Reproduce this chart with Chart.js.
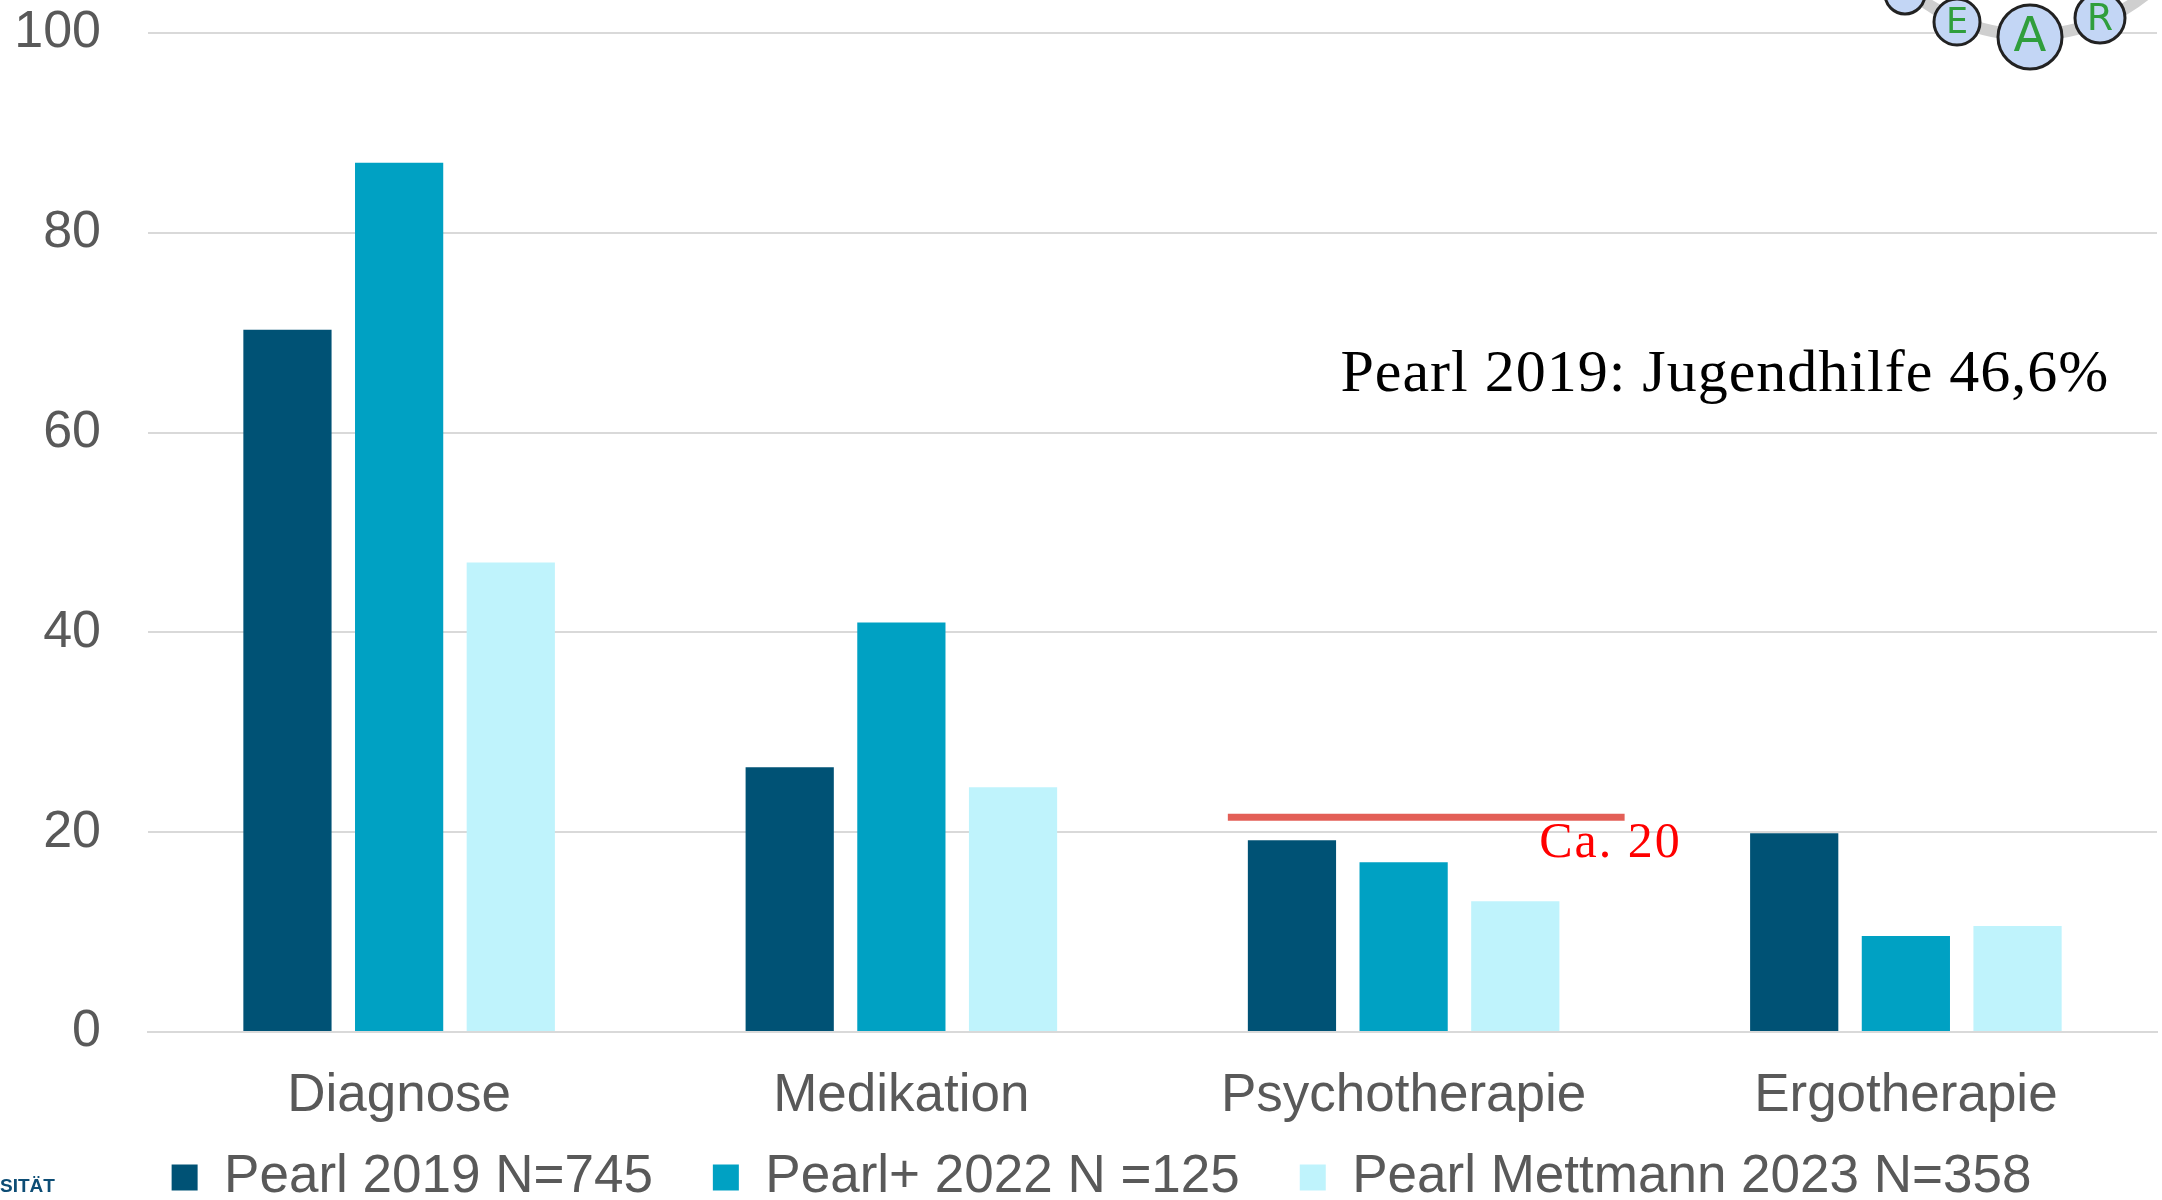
<!DOCTYPE html>
<html>
<head>
  <meta charset="utf-8">
  <title>Pearl Versorgung</title>
  <script src="https://cdn.jsdelivr.net/npm/chart.js"></script>
  <style>
    body { margin: 0; background: #fff; overflow: hidden; }
    #wrap { width: 2162px; height: 1200px; position: relative; }
  </style>
</head>
<body>
<div id="wrap"><canvas id="myChart"></canvas></div>
<script>
  // categories and series (percent)
  const categories = ['Diagnose', 'Medikation', 'Psychotherapie', 'Ergotherapie'];
  const seriesNames = ['Pearl 2019 N=745', 'Pearl+ 2022 N =125', 'Pearl Mettmann 2023 N=358'];
  const pearl2019 = [70.3, 26.5, 19.2, 19.9];
  const pearlPlus2022 = [87.0, 41.0, 17.0, 9.6];
  const pearlMettmann2023 = [47.0, 24.5, 13.1, 10.6];
  const yTicks = [0, 20, 40, 60, 80, 100];

  // annotations
  const refLineValue = 21.5;
  const refLineFrom = 1.65;
  const refLineTo = 2.44;
  const refLineLabel = 'Ca. 20';
  const noteText = 'Pearl 2019: Jugendhilfe 46,6%';

  const colors = ['#005275', '#00a1c3', '#bff3fc'];

  const annotations = {
    id: 'annotations',
    afterDatasetsDraw(chart) {
      const ctx = chart.ctx;
      const x = chart.scales.x, y = chart.scales.y;
      ctx.save();
      // red reference line
      ctx.strokeStyle = '#e35f57';
      ctx.lineWidth = 7;
      ctx.beginPath();
      ctx.moveTo(x.getPixelForValue(refLineFrom), y.getPixelForValue(refLineValue));
      ctx.lineTo(x.getPixelForValue(refLineTo), y.getPixelForValue(refLineValue));
      ctx.stroke();

      ctx.fillStyle = '#ff0000';
      ctx.font = '50px "Liberation Serif"';
      ctx.letterSpacing = '2px';
      ctx.textBaseline = 'middle';
      ctx.textAlign = 'left';
      ctx.fillText(refLineLabel, x.getPixelForValue(2.27), y.getPixelForValue(18.8));

      ctx.fillStyle = '#000';
      ctx.font = '60px "Liberation Serif"';
      ctx.letterSpacing = '1px';
      ctx.textAlign = 'right';
      ctx.fillText(noteText, x.getPixelForValue(3.405), y.getPixelForValue(65.7));
      ctx.restore();
    },
    afterDraw(chart) {
      // logo fragment top right + cropped footer text
      const ctx = chart.ctx;
      ctx.save();
      ctx.strokeStyle = '#cfcfcf';
      ctx.lineWidth = 12;
      ctx.beginPath();
      ctx.arc(2030, -150, 185, 0.25 * Math.PI, 0.8 * Math.PI);
      ctx.stroke();
      const balls = [[1905, -6, 20, ''], [1957, 22, 23, 'E'], [2030, 37, 32, 'A'], [2100, 18, 25, 'R']];
      balls.forEach(b => {
        ctx.beginPath();
        ctx.arc(b[0], b[1], b[2], 0, 2 * Math.PI);
        ctx.fillStyle = '#c3d6f5';
        ctx.fill();
        ctx.lineWidth = 3;
        ctx.strokeStyle = '#222';
        ctx.stroke();
        if (b[3]) {
          ctx.fillStyle = '#2f9e3c';
          ctx.font = Math.round(b[2] * 1.5) + 'px "DejaVu Sans"';
          ctx.textAlign = 'center';
          ctx.textBaseline = 'middle';
          ctx.fillText(b[3], b[0], b[1] + 2);
        }
      });
      ctx.fillStyle = '#0d4d75';
      ctx.font = 'bold 19px "Liberation Sans Narrow", "Liberation Sans"';
      ctx.textAlign = 'left';
      ctx.textBaseline = 'middle';
      ctx.fillText('SITÄT', 0, 1187);
      ctx.restore();
    }
  };

  const ctx = document.getElementById('myChart').getContext('2d');
  new Chart(ctx, {
    type: 'bar',
    data: {
      labels: categories,
      datasets: [
        { label: seriesNames[0], data: pearl2019, backgroundColor: colors[0] },
        { label: seriesNames[1], data: pearlPlus2022, backgroundColor: colors[1] },
        { label: seriesNames[2], data: pearlMettmann2023, backgroundColor: colors[2] }
      ]
    },
    options: {
      responsive: true,
      maintainAspectRatio: false,
      animation: false,
      categoryPercentage: 0.667,
      barPercentage: 0.79,
      layout: { padding: { left: 46, right: 5, top: 33, bottom: -14 } },
      plugins: {
        legend: {
          position: 'bottom',
          labels: {
            font: { family: 'Liberation Sans', size: 53 },
            color: '#595959',
            boxWidth: 26,
            boxHeight: 26,
            padding: 60
          }
        },
        tooltip: { enabled: false }
      },
      scales: {
        x: {
          grid: { display: false },
          border: { display: true, color: '#d9d9d9', width: 2 },
          ticks: {
            font: { family: 'Liberation Sans', size: 53 },
            color: '#595959',
            padding: 25
          },
          afterFit(axis) {
            axis.height = 59;
            // labels hang into the legend band, so don't clip them to the axis box
            axis._computeLabelArea = () => null;
          }
        },
        y: {
          min: 0,
          max: 100,
          afterBuildTicks(axis) { axis.ticks = yTicks.map(v => ({ value: v })); },
          grid: { color: '#d9d9d9', lineWidth: 2, drawTicks: false },
          border: { display: false },
          ticks: {
            font: { family: 'Liberation Sans', size: 52 },
            color: '#595959',
            padding: 47
          },
          afterFit(axis) {
            axis.width = 102;
            axis.paddingTop = 0;
            axis.paddingBottom = 0;
            axis._computeLabelArea = () => null;
          }
        }
      }
    },
    plugins: [annotations]
  });
</script>
</body>
</html>
